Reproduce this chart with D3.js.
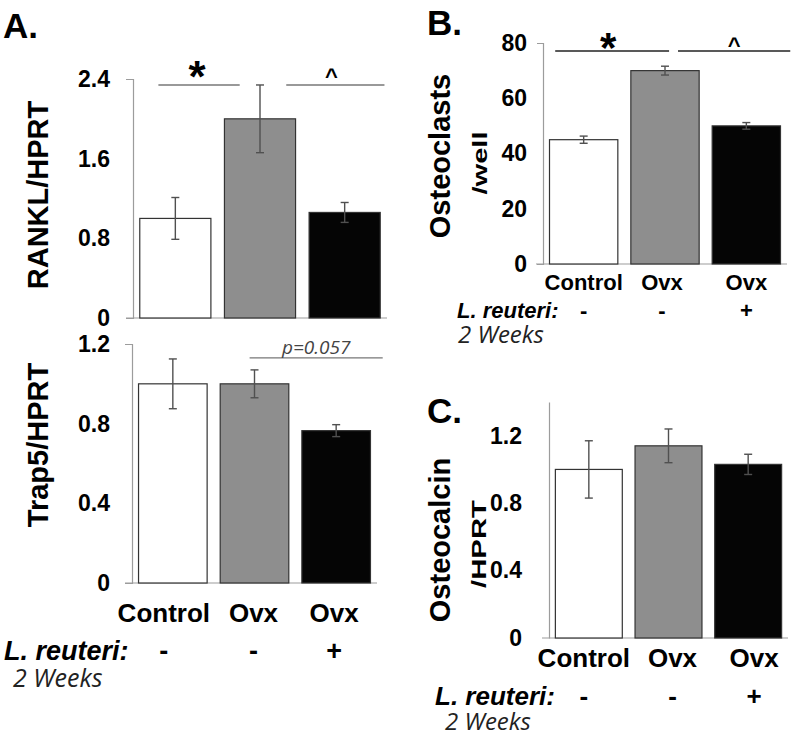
<!DOCTYPE html>
<html lang="en">
<head>
<meta charset="UTF-8">
<title>L. reuteri bone panels</title>
<style>
  body { margin: 0; background: #fff; }
  svg text { font-family: "Liberation Sans", Arial, sans-serif; }
  .soft { font-family: "Open Sans", sans-serif !important; }
</style>
</head>
<body>
<svg id="chart" width="800" height="736"></svg>
<script src="https://d3js.org/d3.v7.min.js"></script>
<script>
// groups along every x axis
const groups = ["Control", "Ovx", "Ovx"];
const reuteri = ["-", "-", "+"];
const barFill = ["#ffffff", "#8e8e8e", "#050505"];

// A (top) RANKL/HPRT
const ranklMean = [1.0, 2.0, 1.06];
const ranklErr = [0.21, 0.34, 0.10];
const ranklTicks = [0, 0.8, 1.6, 2.4];

// A (bottom) Trap5/HPRT
const trap5Mean = [1.0, 1.0, 0.765];
const trap5Err = [0.125, 0.07, 0.03];
const trap5Ticks = [0, 0.4, 0.8, 1.2];

// B osteoclasts per well
const osteoclastMean = [45, 70, 50];
const osteoclastErr = [1.3, 1.6, 1.2];
const osteoclastTicks = [0, 20, 40, 60, 80];

// C Osteocalcin/HPRT
const osteocalcinMean = [1.0, 1.14, 1.03];
const osteocalcinErr = [0.17, 0.10, 0.06];
const osteocalcinTicks = [0, 0.4, 0.8, 1.2];

const svg = d3.select("#chart");
const dec = d => d === 0 ? "0" : d.toFixed(1);

function drawPanel(p) {
    const x = d3.scaleBand()
        .domain(d3.range(groups.length))
        .range([p.x0, p.x1])
        .paddingInner(0.16)
        .paddingOuter(0.08);
    const y = d3.scaleLinear().domain([0, p.yMax]).range([p.yBottom, p.yTop]);
    const cx = i => x(i) + x.bandwidth() / 2;
    // position along the band axis, in steps from the first bar's left edge
    const bx = v => x(0) + v * x.step();

    const g = svg.append("g");

    const axis = d3.axisLeft(y)
        .tickValues(p.ticks)
        .tickSizeInner(0)
        .tickSizeOuter(p.hook)
        .tickPadding(p.pad)
        .tickFormat(p.fmt);
    const ag = g.append("g")
        .attr("transform", `translate(${p.x0},0)`)
        .call(axis);
    ag.select(".domain").attr("stroke", "#9c9c9c").attr("stroke-width", 1.2);
    ag.selectAll("text")
        .attr("font-size", p.tickSize)
        .attr("font-weight", "bold")
        .attr("fill", "#000");

    g.append("line")
        .attr("x1", p.x0 - 7).attr("x2", p.x1)
        .attr("y1", y(0)).attr("y2", y(0))
        .attr("stroke", "#9c9c9c").attr("stroke-width", 1.2);

    g.selectAll("rect.bar")
        .data(p.mean)
        .join("rect")
        .attr("class", "bar")
        .attr("x", (d, i) => x(i))
        .attr("y", d => y(d))
        .attr("width", x.bandwidth())
        .attr("height", d => y(0) - y(d))
        .attr("fill", (d, i) => barFill[i])
        .attr("stroke", "#333")
        .attr("stroke-width", 1.2);

    const eb = g.selectAll("g.err")
        .data(p.mean)
        .join("g")
        .attr("class", "err")
        .attr("stroke", "#505050")
        .attr("stroke-width", 1.4);
    eb.append("line")
        .attr("x1", (d, i) => cx(i)).attr("x2", (d, i) => cx(i))
        .attr("y1", (d, i) => y(d + p.err[i]))
        .attr("y2", (d, i) => y(d - p.err[i]));
    [1, -1].forEach(s => {
        eb.append("line")
            .attr("x1", (d, i) => cx(i) - 4).attr("x2", (d, i) => cx(i) + 4)
            .attr("y1", (d, i) => y(d + s * p.err[i]))
            .attr("y2", (d, i) => y(d + s * p.err[i]));
    });

    // significance brackets
    p.notes.forEach(n => {
        const ly = y(n.v);
        g.append("line")
            .attr("x1", bx(n.from)).attr("x2", bx(n.to))
            .attr("y1", ly).attr("y2", ly)
            .attr("stroke", p.noteColor).attr("stroke-width", 1.3);
        const t = g.append("text")
            .attr("x", (bx(n.from) + bx(n.to)) / 2 + (n.dx || 0))
            .attr("y", ly + n.dy)
            .attr("text-anchor", "middle")
            .attr("font-size", n.size)
            .text(n.label);
        if (n.italic) {
            t.attr("class", "soft").attr("font-style", "italic").attr("fill", "#444");
        } else {
            t.attr("font-weight", "bold");
        }
    });

    // axis title, rotated; second lines are stretched along the text
    p.title.forEach(t => {
        const tt = g.append("text")
            .attr("transform", `translate(${t.x},${t.y}) rotate(-90)`)
            .attr("text-anchor", "middle")
            .attr("font-weight", "bold")
            .attr("font-size", t.size)
            .text(t.text);
        if (t.len) {
            const k = t.len / tt.node().getComputedTextLength();
            tt.attr("transform", `translate(${t.x},${t.y}) rotate(-90) scale(${k},1)`);
        }
    });

    if (p.labelY) {
        g.selectAll("text.grp")
            .data(groups)
            .join("text")
            .attr("class", "grp")
            .attr("x", (d, i) => cx(i) + p.shift[i])
            .attr("y", p.labelY)
            .attr("text-anchor", "middle")
            .attr("font-weight", "bold")
            .attr("font-size", p.labelSize)
            .text(d => d);

        g.append("text")
            .attr("x", p.rowX).attr("y", p.rowY)
            .attr("font-weight", "bold")
            .attr("font-style", "italic")
            .attr("font-size", p.rowSize)
            .text("L. reuteri:");
        g.selectAll("text.sign")
            .data(reuteri)
            .join("text")
            .attr("class", "sign")
            .attr("x", (d, i) => cx(i) + p.shift[i])
            .attr("y", p.rowY)
            .attr("text-anchor", "middle")
            .attr("font-weight", "bold")
            .attr("font-size", p.rowSize)
            .text(d => d);
        g.append("text")
            .attr("class", "soft")
            .attr("x", p.weeksX).attr("y", p.weeksY)
            .attr("font-style", "italic")
            .attr("font-size", p.weeksSize)
            .attr("fill", "#222")
            .text("2 Weeks");
    }

    if (p.letter) {
        svg.append("text")
            .attr("x", p.letter.x).attr("y", p.letter.y)
            .attr("font-weight", "bold")
            .attr("font-size", 35)
            .text(p.letter.text);
    }
}

drawPanel({
    mean: ranklMean, err: ranklErr, ticks: ranklTicks, fmt: dec,
    x0: 133, x1: 387, yBottom: 318, yTop: 79, yMax: 2.4,
    hook: 7, pad: 23, tickSize: 23,
    noteColor: "#777",
    notes: [
        { from: 0.22, to: 1.18, v: 2.34, label: "*", size: 44, dy: 7, dx: -2 },
        { from: 1.73, to: 2.89, v: 2.34, label: "^", size: 22, dy: -1, dx: -4 }
    ],
    title: [{ text: "RANKL/HPRT", x: 48, y: 195, size: 29 }],
    letter: { text: "A.", x: 3, y: 38 }
});

drawPanel({
    mean: trap5Mean, err: trap5Err, ticks: trap5Ticks, fmt: dec,
    x0: 132, x1: 377, yBottom: 583, yTop: 344, yMax: 1.2,
    hook: 7, pad: 22, tickSize: 23,
    noteColor: "#777",
    notes: [
        { from: 1.36, to: 2.99, v: 1.13, label: "p=0.057", size: 19, dy: -4, italic: true }
    ],
    title: [{ text: "Trap5/HPRT", x: 48, y: 445, size: 29 }],
    labelY: 622, labelSize: 26, shift: [-9, -1, -2],
    rowX: 4, rowY: 660, rowSize: 27,
    weeksX: 13, weeksY: 687, weeksSize: 25
});

drawPanel({
    mean: osteoclastMean, err: osteoclastErr, ticks: osteoclastTicks, fmt: d3.format("d"),
    x0: 543, x1: 787, yBottom: 264, yTop: 43, yMax: 80,
    hook: 6, pad: 16, tickSize: 23,
    noteColor: "#222",
    notes: [
        { from: 0.07, to: 1.47, v: 77.1, label: "*", size: 42, dy: 11, dx: -4 },
        { from: 1.58, to: 2.96, v: 77.1, label: "^", size: 22, dy: 2 }
    ],
    title: [
        { text: "Osteoclasts", x: 450, y: 156, size: 29 },
        { text: "/well", x: 487, y: 163, size: 20, len: 63 }
    ],
    labelY: 290, labelSize: 22, shift: [0, -3, 0],
    rowX: 457, rowY: 318, rowSize: 22,
    weeksX: 458, weeksY: 343, weeksSize: 24,
    letter: { text: "B.", x: 427, y: 35 }
});

drawPanel({
    mean: osteocalcinMean, err: osteocalcinErr, ticks: osteocalcinTicks, fmt: dec,
    x0: 549, x1: 788, yBottom: 638, yTop: 402, yMax: 1.4,
    hook: 0, pad: 27, tickSize: 23,
    noteColor: "#222",
    notes: [],
    title: [
        { text: "Osteocalcin", x: 450, y: 540, size: 29 },
        { text: "/HPRT", x: 486, y: 544, size: 21, len: 88 }
    ],
    labelY: 667, labelSize: 26, shift: [-5, 4, 6],
    rowX: 435, rowY: 705, rowSize: 26,
    weeksX: 445, weeksY: 730, weeksSize: 24,
    letter: { text: "C.", x: 427, y: 423 }
});
</script>
</body>
</html>
